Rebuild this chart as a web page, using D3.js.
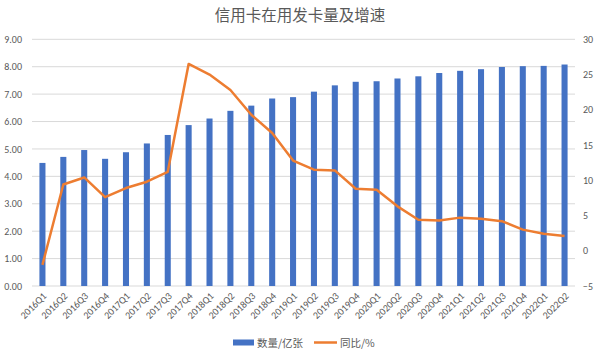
<!DOCTYPE html>
<html>
<head>
<meta charset="utf-8">
<script src="https://cdn.jsdelivr.net/npm/d3@7"></script>
<style>
  body { margin: 0; background: #fff; }
  svg { font-family: "Noto Sans CJK SC", "Noto Sans", sans-serif; }
</style>
</head>
<body>
<svg width="600" height="354"></svg>
<script>
// data
var quarters = ['2016Q1','2016Q2','2016Q3','2016Q4','2017Q1','2017Q2','2017Q3','2017Q4',
  '2018Q1','2018Q2','2018Q3','2018Q4','2019Q1','2019Q2','2019Q3','2019Q4',
  '2020Q1','2020Q2','2020Q3','2020Q4','2021Q1','2021Q2','2021Q3','2021Q4','2022Q1','2022Q2'];
var cards = [4.49, 4.71, 4.96, 4.64, 4.88, 5.20, 5.51, 5.87,
  6.11, 6.39, 6.58, 6.84, 6.89, 7.09, 7.32, 7.45,
  7.47, 7.57, 7.65, 7.77, 7.85, 7.91, 7.99, 8.02, 8.03, 8.08];
var growth = [-2.0, 9.4, 10.4, 7.6, 8.9, 9.8, 11.2, 26.5,
  25.0, 22.8, 19.3, 16.7, 12.8, 11.5, 11.4, 8.8,
  8.65, 6.3, 4.4, 4.3, 4.7, 4.55, 4.2, 3.0, 2.4, 2.1];
var leftTicks = [0,1,2,3,4,5,6,7,8,9];
var rightTicks = [-5,0,5,10,15,20,25,30];

var svg = d3.select('svg');
var textColor = '#595959';
var numFont = 'Calibri, Carlito, "Liberation Sans", sans-serif';

var x = d3.scaleBand().domain(quarters).range([32, 575]).paddingInner(0.71).paddingOuter(0.355);
var yL = d3.scaleLinear().domain([0, 9]).range([286, 39.3]);
var yR = d3.scaleLinear().domain([-5, 30]).range([286, 39.3]);

// title
svg.append('text')
    .attr('x', 300).attr('y', 21)
    .attr('text-anchor', 'middle')
    .attr('font-size', 15.5)
    .attr('fill', textColor)
    .text('信用卡在用发卡量及增速');

// gridlines
svg.append('g')
    .selectAll('line')
    .data(leftTicks)
    .enter()
    .append('line')
    .attr('x1', 32).attr('x2', 575)
    .attr('y1', function(d){ return yL(d); })
    .attr('y2', function(d){ return yL(d); })
    .attr('stroke', '#d9d9d9')
    .attr('stroke-width', 1);

// left axis
var gl = svg.append('g')
    .attr('transform', 'translate(32,0)')
    .call(d3.axisLeft(yL).tickValues(leftTicks).tickFormat(d3.format('.2f')).tickSize(0).tickPadding(10));
gl.select('.domain').remove();
gl.selectAll('text').attr('fill', textColor).attr('font-size', 10).attr('font-family', numFont);

// right axis
var gr = svg.append('g')
    .attr('transform', 'translate(575,0)')
    .call(d3.axisRight(yR).tickValues(rightTicks).tickSize(0).tickPadding(8));
gr.select('.domain').remove();
gr.selectAll('text').attr('fill', textColor).attr('font-size', 10).attr('font-family', numFont);

// x axis labels, rotated
var gx = svg.append('g')
    .attr('transform', 'translate(0,286)')
    .call(d3.axisBottom(x).tickSize(0).tickPadding(6));
gx.select('.domain').remove();
gx.selectAll('text')
    .attr('fill', textColor)
    .attr('font-size', 10)
    .attr('font-family', numFont)
    .attr('text-anchor', 'end')
    .attr('dy', '0.35em')
    .attr('transform', 'translate(-2,4) rotate(-45)');

// bars
svg.append('g')
    .selectAll('rect')
    .data(quarters)
    .enter()
    .append('rect')
    .attr('x', function(d){ return x(d); })
    .attr('width', x.bandwidth())
    .attr('y', function(d, i){ return yL(cards[i]); })
    .attr('height', function(d, i){ return yL(0) - yL(cards[i]); })
    .attr('fill', '#4472c4');

// growth line
var line = d3.line()
    .x(function(d, i){ return x(quarters[i]) + x.bandwidth() / 2; })
    .y(function(d){ return yR(d); });

svg.append('path')
    .datum(growth)
    .attr('d', line)
    .attr('fill', 'none')
    .attr('stroke', '#ed7d31')
    .attr('stroke-width', 2.5)
    .attr('stroke-linejoin', 'round');

// legend
var lg = svg.append('g').attr('font-size', 10.5).attr('fill', textColor);
lg.append('rect').attr('x', 233).attr('y', 339.5).attr('width', 21).attr('height', 6).attr('fill', '#4472c4');
lg.append('text').attr('x', 257).attr('y', 346.5).text('数量/亿张');
lg.append('line').attr('x1', 314).attr('x2', 337).attr('y1', 342.5).attr('y2', 342.5)
    .attr('stroke', '#ed7d31').attr('stroke-width', 2.5);
lg.append('text').attr('x', 340).attr('y', 346.5).text('同比/%');
</script>
</body>
</html>
